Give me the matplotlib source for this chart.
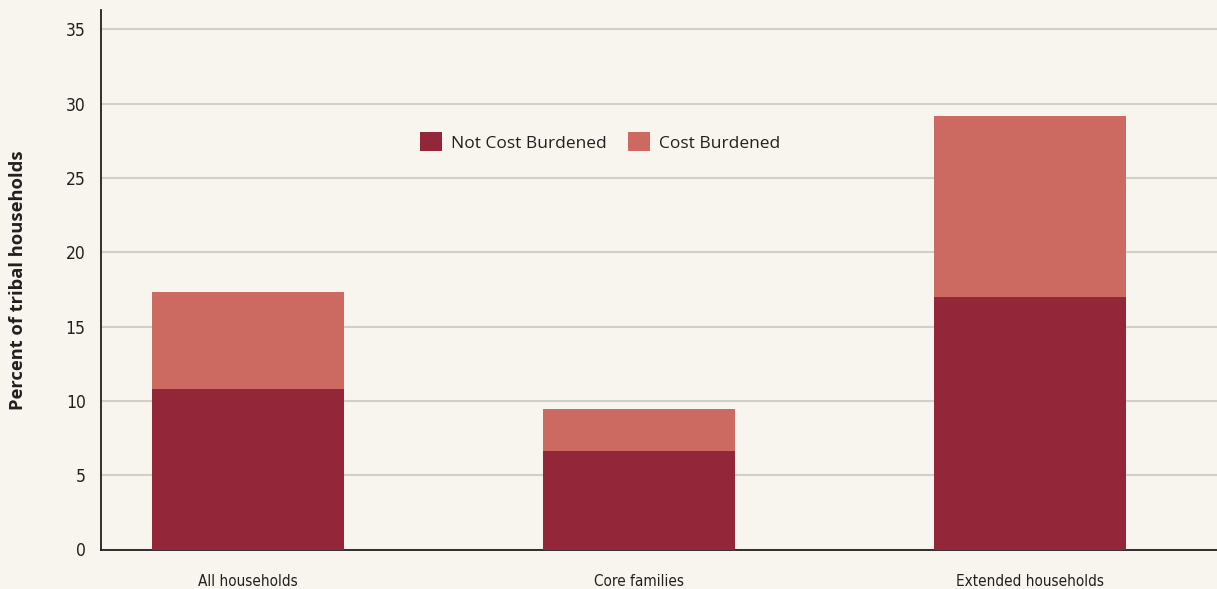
import matplotlib
matplotlib.use("Agg")
import matplotlib.pyplot as plt
from matplotlib.patches import Patch
import numpy as np

categories = ["All households", "Core families", "Extended households"]
not_cost_burdened = [10.8, 6.6, 17.0]
cost_burdened = [6.5, 2.85, 12.2]
series_names = ["Not Cost Burdened", "Cost Burdened"]
yticks = [0, 5, 10, 15, 20, 25, 30, 35]

bg = "#F8F4EE"
dark = "#94263A"
light = "#CC6A62"
textc = "#231F20"

fig = plt.figure(figsize=(12.17, 5.89), dpi=100, facecolor=bg)
ax = fig.add_axes([101/1217, (589-549.5)/589, 1 - 101/1217, (549.5-10)/589])
ax.set_facecolor(bg)

x = np.arange(len(categories))
w = 0.49
ax.bar(x, not_cost_burdened, width=w, color=dark, zorder=3)
ax.bar(x, cost_burdened, width=w, bottom=not_cost_burdened, color=light, zorder=3)

ax.set_xlim(-0.376, 2.478)
ax.set_ylim(0, 36.3)
ax.set_yticks(yticks)
ax.set_xticks(x)

ax.set_yticklabels([str(v) for v in yticks], fontsize=12.5, color=textc,
                   family="DejaVu Sans", fontstretch="condensed")
ax.set_xticklabels(categories, fontsize=11, color=textc, family="DejaVu Sans",
                   fontstretch="condensed")
ax.tick_params(axis="both", length=0)
ax.tick_params(axis="y", pad=11)
ax.tick_params(axis="x", pad=18)

ax.yaxis.grid(True, color="#D3CEC8", linewidth=1.5, zorder=0)
ax.set_axisbelow(True)
for s in ["top", "right"]:
    ax.spines[s].set_visible(False)
for s in ["left", "bottom"]:
    ax.spines[s].set_color(textc)
    ax.spines[s].set_linewidth(1.3)

fig.text(18/1217, 1 - 280/589, "Percent of tribal households", rotation=90,
         ha="center", va="center", fontsize=13.2, fontweight="bold", color=textc,
         family="Open Sans")

handles = [Patch(facecolor=dark, edgecolor="none"), Patch(facecolor=light, edgecolor="none")]
leg = fig.legend(handles, series_names, loc="center", bbox_to_anchor=(600/1217, 1 - 142/589),
                 ncol=2, frameon=False, handlelength=1.3, handleheight=1.3,
                 handletextpad=0.5, columnspacing=1.2,
                 prop={"family": "Open Sans", "size": 12.5})
for t in leg.get_texts():
    t.set_color(textc)

fig.savefig("out.png", dpi=100, facecolor=bg)
